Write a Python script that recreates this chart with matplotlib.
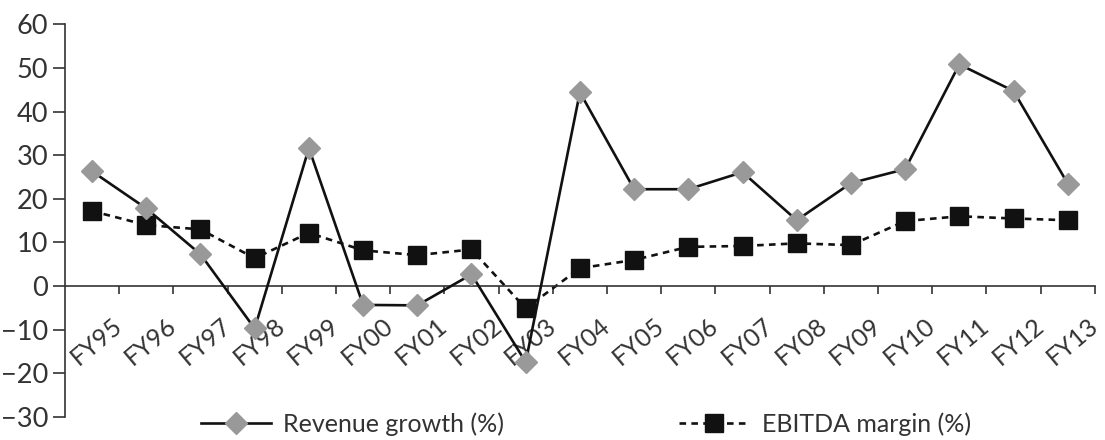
import matplotlib.pyplot as plt
import numpy as np

years = ['FY95', 'FY96', 'FY97', 'FY98', 'FY99', 'FY00', 'FY01', 'FY02', 'FY03', 'FY04',
         'FY05', 'FY06', 'FY07', 'FY08', 'FY09', 'FY10', 'FY11', 'FY12', 'FY13']
revenue_growth = [26.3, 17.8, 7.3, -9.7, 31.6, -4.3, -4.4, 2.7, -17.4, 44.4,
                  22.2, 22.2, 26.1, 15.1, 23.6, 26.8, 50.8, 44.7, 23.5]
ebitda_margin = [17.2, 14.0, 13.0, 6.4, 12.2, 8.2, 7.1, 8.4, -5.1, 4.1,
                 6.0, 9.0, 9.2, 9.8, 9.4, 14.9, 16.0, 15.5, 15.1]

plt.rcParams['font.family'] = ['Lato', 'DejaVu Sans']
txt = '#333333'

fig = plt.figure(figsize=(11.05, 4.4), dpi=100)
ax = fig.add_axes([0.0588, 0.052, 0.932, 0.893])

x = np.arange(len(years))
ax.plot(x, revenue_growth, color='#111111', lw=1.9, marker='D', ms=11,
        mfc='#999999', mec='#999999', label='Revenue growth (%)', zorder=3)
ax.plot(x, ebitda_margin, color='#111111', lw=1.9, ls=(0, (2.5, 2)), marker='s', ms=13.5,
        mfc='#111111', mec='#111111', label='EBITDA margin (%)', zorder=2)

ax.set_xlim(-0.5, len(years) - 0.5)
ax.set_ylim(-30, 60)
ax.set_yticks(np.arange(-30, 61, 10))

for s in ['top', 'right']:
    ax.spines[s].set_visible(False)
ax.spines['bottom'].set_position(('data', 0))
for s in ['left', 'bottom']:
    ax.spines[s].set_color(txt)
    ax.spines[s].set_linewidth(1.2)

ax.set_xticks(x + 0.5)
ax.set_xticklabels(years, rotation=40, ha='right', va='center', rotation_mode='anchor')
ax.tick_params(axis='x', direction='out', length=6, width=1.2, color=txt, pad=20,
               labelsize=18, labelcolor=txt)
ax.tick_params(axis='y', direction='out', length=9, width=1.2, color=txt, pad=3,
               labelsize=19.5, labelcolor=txt)

fig.legend(loc='center', bbox_to_anchor=(0.53, 0.036), ncol=2, frameon=False,
           fontsize=18, labelcolor=txt, handlelength=2.8, handletextpad=0.5,
           columnspacing=7)

fig.savefig('out.png', dpi=100)
